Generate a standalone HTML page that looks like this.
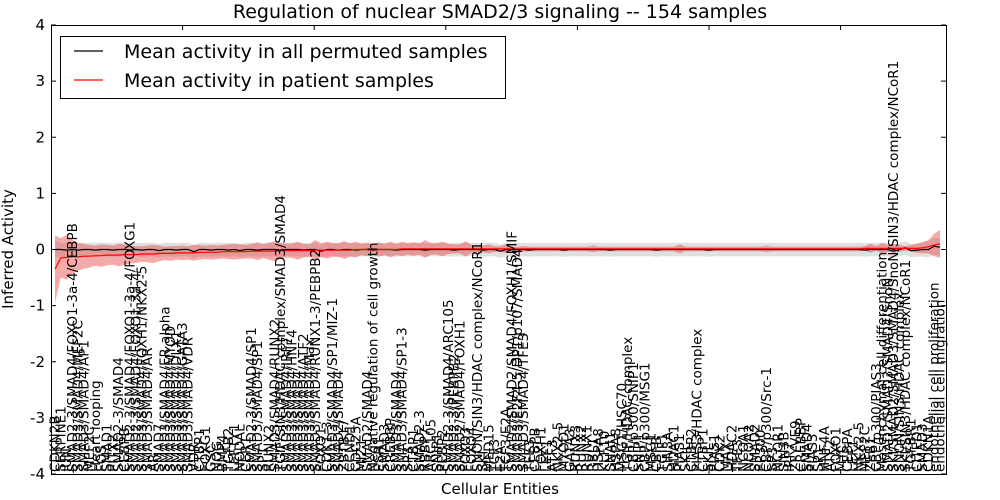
<!DOCTYPE html>
<html><head><meta charset="utf-8">
<style>
html,body{margin:0;padding:0;background:#fff;}
svg{display:block;font-family:"DejaVu Sans","Liberation Sans",sans-serif;}
</style></head>
<body>
<svg id="chart" width="1000" height="500" viewBox="0 0 1000 500">
<rect x="0" y="0" width="1000" height="500" fill="#fff"/>
<g id="bands"></g>
<g id="lines"></g>
<g id="labels"></g>
<g id="axes"></g>
<text x="500" y="18" text-anchor="middle" font-size="19">Regulation of nuclear SMAD2/3 signaling -- 154 samples</text>
<text x="500" y="494" text-anchor="middle" font-size="15">Cellular Entities</text>
<text transform="translate(13,249) rotate(-90)" text-anchor="middle" font-size="15">Inferred Activity</text>
<g>
<rect x="60.5" y="36.5" width="445" height="62" fill="#fff" stroke="#000" stroke-width="1"/>
<line x1="74" y1="51" x2="103" y2="51" stroke="#000" stroke-width="1.2"/>
<text x="124" y="58" font-size="19">Mean activity in all permuted samples</text>
<line x1="74" y1="80" x2="103" y2="80" stroke="#f00" stroke-width="1.2"/>
<text x="124" y="87" font-size="19">Mean activity in patient samples</text>
</g>
</svg>
<script>
const labels = [
"CDKN2B","SERPINE1","JUN","SMAD2-3/SMAD4/FOXO1-3a-4/CEBPB","SMAD3/SMAD4/MEF2C","SMAD3/SMAD4/AP1","MEF2C","Heart looping","FOS","SMAD1","PITX2","SMAD2-3/SMAD4",
"CEBPB","SMAD2-3/SMAD4/FOXO1-3a-4/FOXG1","SMAD2-3/SMAD4/FOXO1-3a-4","SMAD3/SMAD4/FOXH1/NKX2-5","SMAD3/SMAD4/AR","AR","SMAD7","SMAD3/SMAD4/ER alpha","SMAD3/SMAD4/MYOD","SMAD3/SMAD4/DLX1",
"SMAD3/SMAD4/GATA3","SMAD3/SMAD4/VDR","VDR","CTBP1","FOXG1","GSC","NOG","BMP4","TGFB2","LEFTY1","NODAL","CER1","SMAD2-3/SMAD4/SP1","SMAD3/SMAD4/SP1","SP1","RUNX2",
"SMAD3/SMAD4/RUNX2","TGIF/SIN3/HDAC complex/SMAD3/SMAD4","SMAD3/SMAD4/IRF7","SMAD3/SMAD4/HNF4","SMAD3/SMAD4","SMAD3/SMAD4/ATF2","SMAD3/SMAD4/Max","SMAD3/SMAD4/RUNX1-3/PEBPB2","FOXO1","CDK1-3",
"SMAD3/SMAD4/SP1/MIZ-1","SMAD2/SMAD4","ZBTB17","CCND1","CDC25A","MIZ1","SMAD2/SMAD4","Negative regulation of cell growth","ESR1","SMAD3","CREBBP","SMAD3/SMAD4","SMAD3/SMAD4/SP1-3",
"SP3","CTBP1","SMAD2-3","RBBP7","ARC105","SNIP1","PEBP2","SMAD2-3/SMAD4/ARC105","SMAD2-3/PEBPB2","SMAD2/SMAD4/FOXH1","FOXO3","FOXO4","SNON/SIN3/HDAC complex/NCoR1",
"SKI","MED15","TCF3","E2A","TCF3/E2A","SMAD2/SMAD2/SMAD4/FOXH1/SMIF","SMAD3/E2F4-5/DP1/p107/SMAD4","SMAD3/SMAD4/TFE3","TFE3","CEBPB","FOXH1","LEF1",
"ATF3","NKX2-5","MYOD1","GATA3","RUNX3","RUNX2","RUNX1","RBL1","HSPA8","KLF10",
"SNAI1","HSPA8","MSG1/HSC70","TGIF/HDAC complex","CBP/p300/SNIP1","SNIP1","CBP/p300/MSG1","MSG1","CBFB","TGIF1",
"SIN3A","HDAC1","PIAS1","SKIL","CTBP2","PIAS3/HDAC complex","CTBP1","SKIL","PIAS1","CDK2",
"MAX","HDAC2","TFE3","NCOA1","NCOA2","SMAD2","EP300","CBP/p300/Src-1","SP3","NCOR1",
"SIN3B","IRF7","ZFYVE9","CREBBP",
"SMAD4","PIAS3","SP1","HNF4A","ATF2","FOXO1","MYC","CEBPA","LEF1","NKX2-5",
"MEF2C","ZEB1","CBP/p300/PIAS3","Mesenchymal cell differentiation","SMAD2/SMAD3/SMAD4/SnoN","SKI/SMAD2/SMAD3/SMAD4/SnoN/SIN3/HDAC complex/NCoR1","SNON/SIN3/HDAC complex","SKI/SIN3/HDAC complex/NCoR1","TGFBR1","CITED1",
"SMAD3","CDKN1A","endothelial cell proliferation","endothelial cell migration"];
const redMean = [
-0.35,-0.15,-0.14,-0.13,-0.13,-0.12,-0.12,-0.11,-0.11,-0.10,
-0.10,-0.10,-0.09,-0.09,-0.09,-0.08,-0.08,-0.08,-0.07,-0.07,
-0.07,-0.06,-0.06,-0.06,-0.06,-0.05,-0.05,-0.05,-0.05,-0.04,
-0.04,-0.04,-0.04,-0.04,-0.03,-0.03,-0.03,-0.03,-0.03,-0.02,
-0.02,-0.02,-0.02,-0.02,-0.02,-0.01,-0.01,-0.01,-0.01,-0.01,
-0.01,-0.01,0,0,0,0,0,0,0,0,
0.01,0.01,0.01,0.01,0.01,0.01,0.01,0.01,0.01,0.01,
0.01,0.01,0.01,0.01,0.01,0.01,0.01,0.01,0.01,0.01,
0.01,0.01,0.01,0.01,0.01,0.01,0.01,0.01,0.01,0.01,
0.01,0.01,0.01,0.01,0.01,0.01,0.01,0.01,0.01,0.01,
0.01,0.01,0.01,0.01,0.01,0.01,0.01,0.01,0.01,0.01,
0.01,0.01,0.01,0.01,0.01,0.01,0.01,0.01,0.01,0.01,
0.01,0.01,0.01,0.01,0.01,0.01,0.01,0.01,0.01,0.01,
0.01,0.01,0.01,0.01,0.01,0.01,0.01,0.01,0.01,0.01,
0.02,0.02,0.02,0.02,0.02,0.02,0.02,0.02,0.02,0.02,
0.03,0.05,0.08,0.1];
const redSpread = [
0.6,0.35,0.4,0.3,0.25,0.22,0.2,0.18,0.2,0.18,
0.17,0.2,0.18,0.16,0.15,0.14,0.15,0.16,0.14,0.12,
0.13,0.12,0.13,0.12,0.14,0.13,0.12,0.13,0.12,0.12,
0.13,0.14,0.13,0.12,0.13,0.16,0.12,0.15,0.18,0.14,
0.12,0.13,0.16,0.12,0.11,0.18,0.12,0.15,0.12,0.12,
0.16,0.12,0.14,0.1,0.12,0.1,0.13,0.1,0.14,0.1,
0.13,0.1,0.12,0.1,0.16,0.1,0.1,0.13,0.09,0.08,
0.08,0.14,0.07,0.06,0.06,0.08,0.05,0.05,0.08,0.04,
0.04,0.05,0.04,0.04,0.04,0.04,0.04,0.04,0.04,0.04,
0.04,0.04,0.04,0.06,0.04,0.04,0.04,0.04,0.04,0.04,
0.04,0.04,0.04,0.04,0.04,0.04,0.04,0.04,0.08,0.04,
0.04,0.04,0.04,0.04,0.04,0.04,0.04,0.04,0.04,0.04,
0.04,0.04,0.04,0.06,0.04,0.04,0.04,0.04,0.04,0.04,
0.04,0.04,0.04,0.04,0.04,0.04,0.04,0.04,0.04,0.04,
0.04,0.08,0.04,0.1,0.06,0.08,0.06,0.04,0.06,0.08,
0.1,0.12,0.2,0.25];
const blackMean = [
0,0,-0.01,0,-0.01,0,0,-0.01,0,0,
-0.01,0,0,-0.01,0,-0.01,0,0,-0.02,0,
0,-0.01,0,0,-0.04,0,0,-0.01,0,0,
-0.01,0,-0.02,0,0,-0.01,0,0,0,-0.01,
0,0,0,-0.01,0,0,-0.03,0,0,-0.01,
0,0,-0.01,0,0,-0.01,0,0,0,-0.01,
0,0,0,0,-0.01,0,0,0,0,-0.01,
0,0,0,0,-0.01,0,0,-0.03,0,0,
0,0,-0.01,0,0,0,0,0,-0.01,0,
0,0,0,0,0,0,-0.01,0,0,0,
0,0,0,0,-0.01,0,0,0,0,0,
0,0,0,-0.01,0,0,0,0,0,0,
0,0,0,0,0,0,0,0,0,0,
0,0,0,0,0,0,0,0,0,0,
-0.01,0,0,0,0,-0.03,0,0.03,-0.02,-0.01,
0,0,0.06,0.04];
const greySpread = [
0.15,0.12,0.12,0.13,0.12,0.12,0.12,0.13,0.12,0.12,
0.12,0.13,0.12,0.12,0.12,0.12,0.12,0.12,0.12,0.12,
0.12,0.12,0.12,0.12,0.12,0.12,0.12,0.12,0.12,0.12,
0.12,0.12,0.12,0.12,0.12,0.12,0.12,0.12,0.12,0.12,
0.12,0.12,0.12,0.12,0.12,0.12,0.12,0.12,0.12,0.12,
0.12,0.12,0.12,0.12,0.12,0.12,0.12,0.12,0.12,0.12,
0.12,0.12,0.12,0.12,0.12,0.12,0.12,0.12,0.12,0.12,
0.12,0.12,0.12,0.12,0.12,0.12,0.12,0.12,0.12,0.12,
0.12,0.12,0.12,0.12,0.12,0.12,0.12,0.12,0.12,0.12,
0.12,0.12,0.12,0.12,0.12,0.12,0.12,0.12,0.12,0.12,
0.12,0.12,0.12,0.12,0.12,0.12,0.12,0.12,0.12,0.12,
0.12,0.12,0.12,0.12,0.12,0.12,0.12,0.12,0.12,0.12,
0.12,0.12,0.12,0.12,0.12,0.12,0.12,0.12,0.12,0.12,
0.12,0.12,0.12,0.12,0.12,0.12,0.12,0.12,0.12,0.12,
0.12,0.12,0.12,0.12,0.12,0.12,0.12,0.12,0.12,0.12,
0.13,0.14,0.15,0.15];
const yTicks = [-4,-3,-2,-1,0,1,2,3,4];

const NS = "http://www.w3.org/2000/svg";
const L = 51, R = 946, T = 25, B = 474;
const n = Math.min(labels.length, redMean.length, redSpread.length, blackMean.length, greySpread.length);
function xs(i){ return L + 4 + i*(R - L - 10)/(n - 1); }
function ys(v){ return B - (v + 4)/8*(B - T); }
function mk(tag, attrs, parent){ const e = document.createElementNS(NS, tag); for (const k in attrs) e.setAttribute(k, attrs[k]); parent.appendChild(e); return e; }
function band(mean, spread, fill, op, name){
  let d = "M";
  for (let i = 0; i < n; i++) d += xs(i).toFixed(1) + "," + ys(mean[i] + spread[i]).toFixed(1) + " L";
  for (let i = n - 1; i >= 0; i--) d += xs(i).toFixed(1) + "," + ys(mean[i] - spread[i]).toFixed(1) + (i ? " L" : " Z");
  const p = mk("path", {d: d, fill: fill, "fill-opacity": op, stroke: "none"}, document.getElementById("bands"));
  
  
}
band(blackMean, greySpread, "#bbbbbb", 0.45, "permuted-band");
band(redMean, redSpread, "#e84040", 0.45, "patient-band");
function line(mean, color, name){
  let pts = "";
  for (let i = 0; i < n; i++) pts += xs(i).toFixed(1) + "," + ys(mean[i]).toFixed(1) + " ";
  const p = mk("polyline", {points: pts, fill: "none", stroke: color, "stroke-width": 1.2}, document.getElementById("lines"));
  
  
}
line(blackMean, "#000", "permuted-mean-line");
line(redMean, "#f00", "patient-mean-line");
const lg = document.getElementById("labels");
for (let i = 0; i < n; i++) {
  const e = mk("text", {transform: "translate(" + (xs(i) + 4.5).toFixed(1) + "," + (B - 2) + ") rotate(-90)", "font-size": 13.5}, lg);
  e.textContent = labels[i];
  
  
}
const ax = document.getElementById("axes");
const frame = mk("rect", {x: L + 0.5, y: T + 0.5, width: R - L, height: B - T, fill: "none", stroke: "#000", "stroke-width": 1}, ax);


yTicks.forEach(v => {
  const y = ys(v);
  mk("line", {x1: L, y1: y, x2: L + 5, y2: y, stroke: "#000"}, ax);
  mk("line", {x1: R - 5, y1: y, x2: R, y2: y, stroke: "#000"}, ax);
  const t = mk("text", {x: L - 6, y: y + 5, "text-anchor": "end", "font-size": 15}, ax);
  t.textContent = v;
  
  
});
for (let k = 1; k < 7; k++) {
  const x = L + k*131.6;
  if (x >= R) break;
  mk("line", {x1: x, y1: T, x2: x, y2: T + 5, stroke: "#000"}, ax);
  mk("line", {x1: x, y1: B - 5, x2: x, y2: B, stroke: "#000"}, ax);
}
</script>
</body></html>
